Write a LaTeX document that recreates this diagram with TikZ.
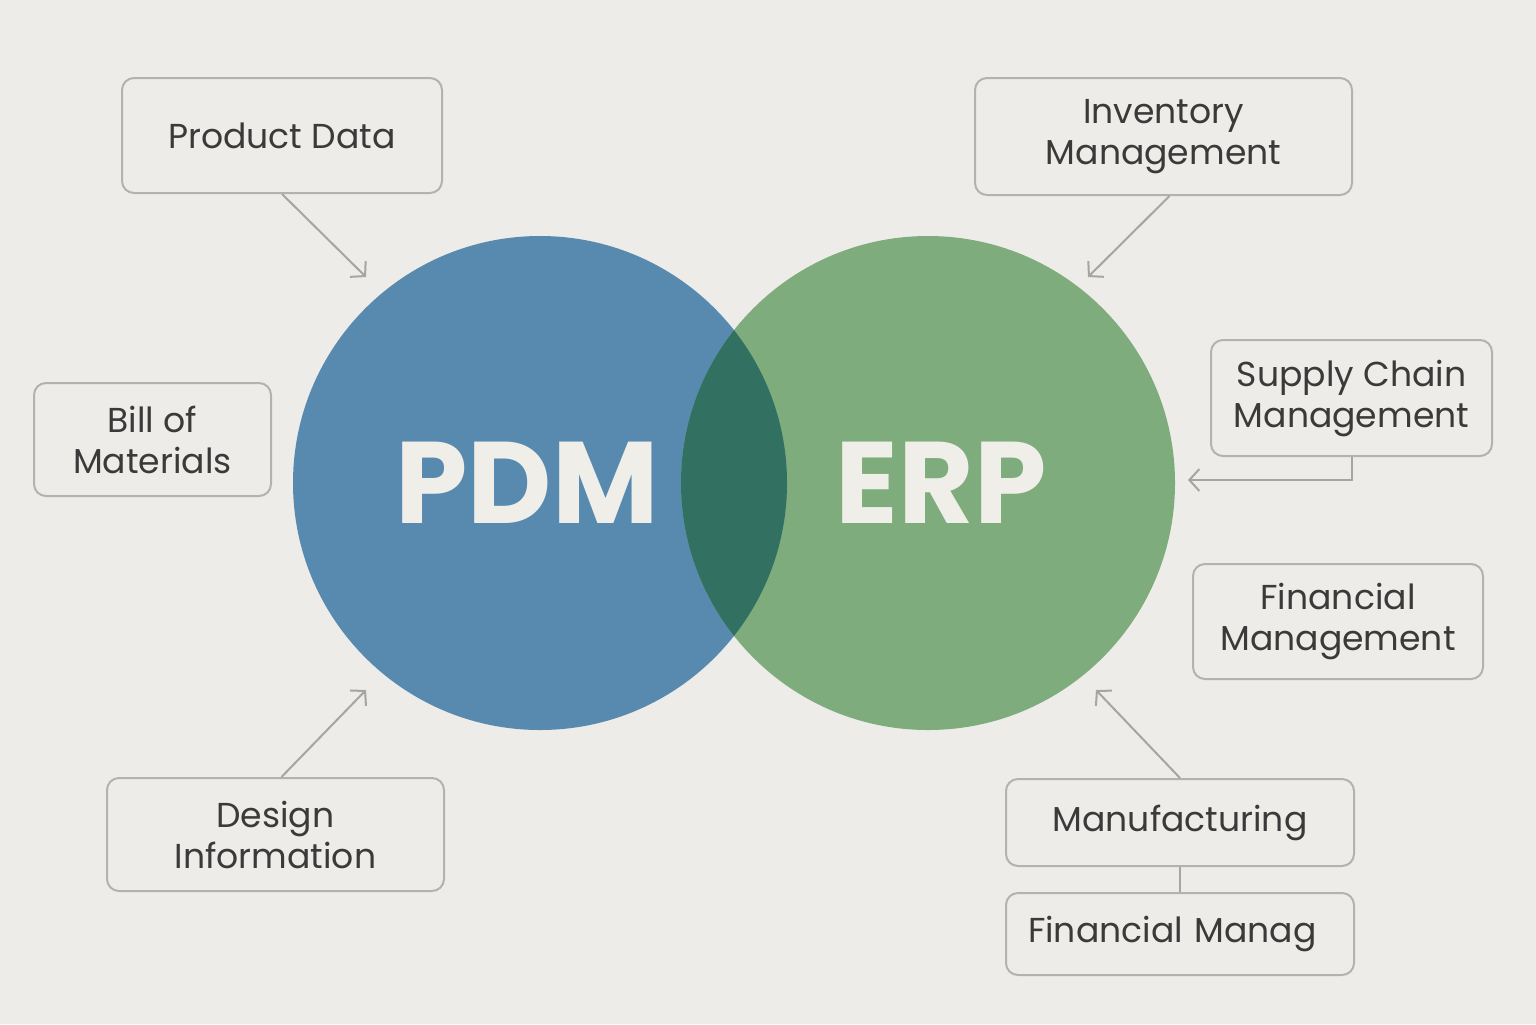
\documentclass[tikz,border=0pt]{standalone}
\usepackage{fontspec}
\setmainfont{Poppins}
\usetikzlibrary{arrows.meta,positioning}
\definecolor{bgcol}{RGB}{238,236,232}
\definecolor{pdmblue}{RGB}{88,138,176}
\definecolor{erpgreen}{RGB}{126,172,124}
\definecolor{overlapgreen}{RGB}{50,112,98}
\definecolor{boxline}{RGB}{178,178,176}
\definecolor{arrowgray}{RGB}{165,165,163}
\definecolor{textgray}{RGB}{58,58,58}
\definecolor{bigtext}{RGB}{240,238,232}

\begin{document}
\begin{tikzpicture}[x=0.5pt,y=-0.5pt,
    box/.style={draw=boxline,line width=1pt,rounded corners=6pt,fill=bgcol,
                align=center,text=textgray,inner sep=0pt,
                font=\fontsize{17.3}{20.5}\selectfont},
    feed/.style={draw=arrowgray,line width=1pt,-{Straight Barb[length=5pt,width=11pt]}},
    big/.style={text=bigtext,font=\fontsize{58}{58}\selectfont\bfseries}]
  \fill[bgcol] (0,0) rectangle (1536,1024);
  % the two systems
  \fill[pdmblue]  (540,483) circle (247);
  \fill[erpgreen] (928,483) circle (247);
  \begin{scope}
    \clip (540,483) circle (247);
    \fill[overlapgreen] (928,483) circle (247);
  \end{scope}
  \node[big] (pdm) at (527,483) {PDM};
  \node[big] (erp) at (941,483) {ERP};
  % PDM side
  \node[box,minimum width=160pt,minimum height=57.5pt] (pd) at (282,135.5) {Product Data};
  \node[box,minimum width=118.5pt,minimum height=56.5pt] (bom) at (152.5,439.5) {Bill of\\Materials};
  \node[box,minimum width=168.5pt,minimum height=56.5pt] (ds) at (275.5,834.5) {Design\\Information};
  % ERP side
  \node[box,minimum width=188.5pt,minimum height=58.5pt] (inv) at (1163.5,136.5) {\raisebox{-3pt}{Inventory}\\\raisebox{-3pt}{Management}};
  \node[box,minimum width=140.5pt,minimum height=58pt] (scm) at (1351.5,398) {\raisebox{-2pt}{Supply Chain}\\\raisebox{-2pt}{Management}};
  \node[box,minimum width=145pt,minimum height=57.5pt] (fm) at (1338,621.5) {Financial\\Management};
  \node[box,minimum width=174pt,minimum height=43.5pt] (mfg) at (1180,822.5) {Manufacturing};
  \node[box,minimum width=174pt,minimum height=41pt,text width=152pt,align=left,
        inner xsep=11pt,below=12.5pt of mfg] (fin) {Financial Manag};
  % connectors
  \coordinate (pdtip)  at (366,277);
  \coordinate (invtip) at (1088,277);
  \coordinate (scmtip) at (1188,480);
  \coordinate (dstip)  at (366,690);
  \coordinate (mfgtip) at (1096,690);
  \draw[feed] (pd.south) -- (pdtip);
  \draw[feed] ([xshift=3pt]inv.south) -- (invtip);
  \draw[feed] (scm.south) |- (scmtip);
  \draw[feed] ([xshift=3pt]ds.north) -- (dstip);
  \draw[feed] (mfg.north) -- (mfgtip);
  \draw[draw=arrowgray,line width=1pt] (mfg.south) -- (fin.north);
\end{tikzpicture}
\end{document}
